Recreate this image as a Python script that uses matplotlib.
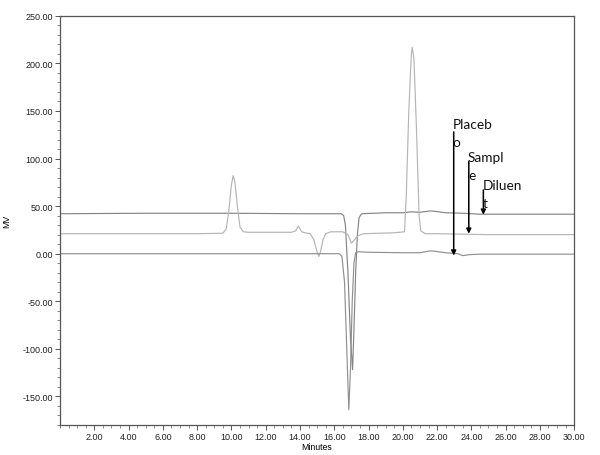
import matplotlib
matplotlib.use("Agg")
import matplotlib.pyplot as plt
from matplotlib.ticker import MultipleLocator, FormatStrFormatter

# ---- data ----
sample_t = [0.0, 8.0, 9.5, 9.7, 9.85, 10.0, 10.1, 10.2, 10.35, 10.5, 10.7, 11.0,
            13.5, 13.75, 13.9, 14.0, 14.1, 14.3, 14.6, 14.8, 15.0, 15.1, 15.2, 15.35,
            15.5, 15.8, 16.5, 16.8, 17.0, 17.15, 17.4, 17.7, 19.5, 20.1, 20.2, 20.35,
            20.5, 20.55, 20.65, 20.8, 20.95, 21.05, 21.3, 22.0, 25.0, 30.0]
sample_v = [21, 21, 21.5, 26, 45, 72, 82, 76, 50, 28, 23, 22.5,
            22.5, 24, 29, 26, 23, 22, 21, 15, 2, -3, 2, 15,
            21, 23, 23, 20, 11, 14, 19, 21, 22, 23, 60, 150,
            210, 217, 205, 130, 40, 24, 21, 21, 20, 20]

diluent_t = [0.0, 5.0, 10.0, 14.0, 16.4, 16.55, 16.65, 16.8, 16.95, 17.07, 17.15,
             17.25, 17.35, 17.45, 17.6, 19.0, 20.0, 20.5, 21.0, 21.6, 21.9, 22.5,
             23.5, 24.5, 30.0]
diluent_v = [42, 42.5, 42.5, 42, 42, 40, 30, -20, -90, -122, -80,
             -20, 20, 38, 42, 43, 43, 44, 43.5, 45, 44.5, 43,
             42.5, 41.5, 41.5]

placebo_t = [0.0, 10.0, 16.3, 16.45, 16.6, 16.75, 16.85, 16.95, 17.05, 17.15,
             17.25, 17.4, 18.0, 20.0, 21.0, 21.6, 21.9, 22.5, 23.2, 23.5, 23.9,
             24.5, 30.0]
placebo_v = [0, 0, 0, -3, -30, -110, -164, -120, -50, -10,
             1, 2, 1.5, 1, 1, 3, 2.5, 1, 0, -2, -1,
             -0.5, -0.5]

labels = ["Placeb\no", "Sampl\ne", "Diluen\nt"]
arrow_x = [22.97, 23.85, 24.7]
arrow_top = [128, 97, 67]
arrow_end = [-2, 21, 41]
label_y = [143, 108, 78]

fig = plt.figure(figsize=(6.0, 4.56), dpi=100)
ax = fig.add_axes([0.1, 0.066, 0.857, 0.897])

ax.plot(diluent_t, diluent_v, color="#858585", lw=0.85)
ax.plot(sample_t, sample_v, color="#b5b5b5", lw=0.85)
ax.plot(placebo_t, placebo_v, color="#909090", lw=0.85)

for lab, x, yt, ye, ly in zip(labels, arrow_x, arrow_top, arrow_end, label_y):
    ax.annotate("", xy=(x, ye), xytext=(x, yt),
                arrowprops=dict(arrowstyle="-|>", color="black", lw=1.1,
                                mutation_scale=7, shrinkA=0, shrinkB=0))
    ax.text(x - 0.05, ly, lab, ha="left", va="top", fontsize=9.8,
            family="Lato", linespacing=1.6, color="#111111")

ax.set_xlim(0, 30)
ax.set_ylim(-180, 250)
ax.xaxis.set_minor_locator(MultipleLocator(0.5))
ax.yaxis.set_minor_locator(MultipleLocator(10))
ax.xaxis.set_major_formatter(FormatStrFormatter("%.2f"))
ax.yaxis.set_major_formatter(FormatStrFormatter("%.2f"))
ax.set_xticks([2, 4, 6, 8, 10, 12, 14, 16, 18, 20, 22, 24, 26, 28, 30])
ax.set_yticks([-150, -100, -50, 0, 50, 100, 150, 200, 250])

for sp in ax.spines.values():
    sp.set_color("#555555")
    sp.set_linewidth(0.9)
ax.tick_params(which="major", length=3.5, width=0.7, color="#555555",
               labelsize=6.5, labelcolor="#222222", pad=1.5)
ax.tick_params(which="minor", length=2, width=0.6, color="#777777")
for lab in ax.get_xticklabels() + ax.get_yticklabels():
    lab.set_family("Liberation Sans")

ax.set_xlabel("Minutes", fontsize=6.3, family="Liberation Sans", labelpad=1)
ax.set_ylabel("MV", fontsize=6.3, family="Liberation Sans", labelpad=8)

fig.savefig("out.png", dpi=100)
